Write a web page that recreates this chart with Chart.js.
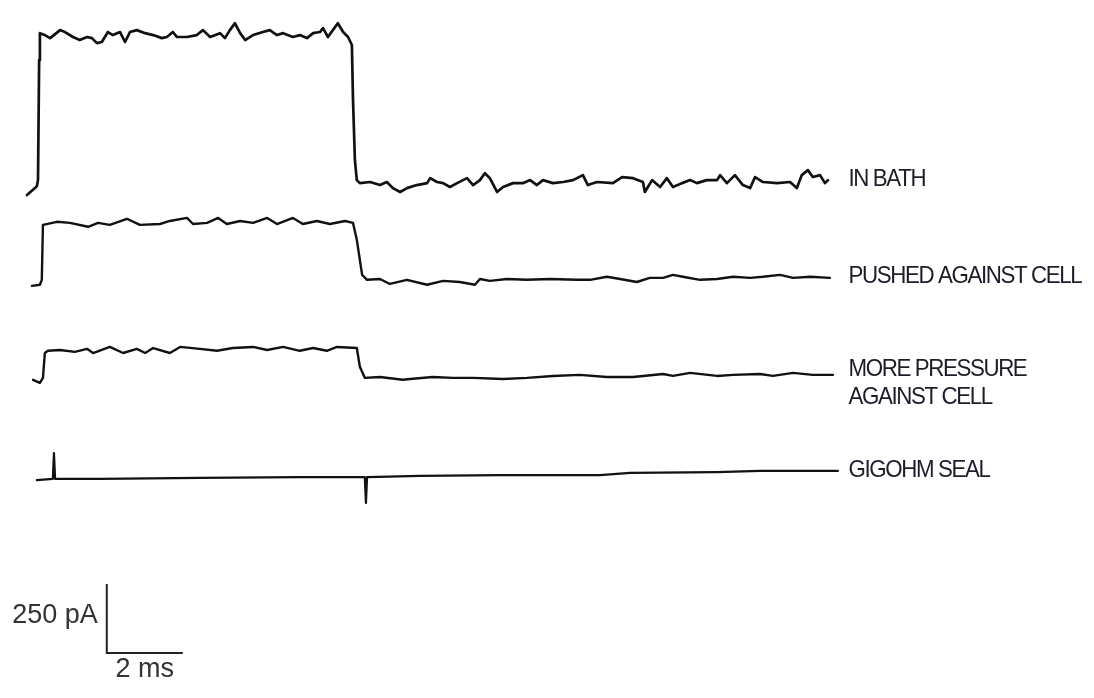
<!DOCTYPE html>
<html>
<head>
<meta charset="utf-8">
<script src="https://cdn.jsdelivr.net/npm/chart.js@4.4.1/dist/chart.umd.min.js"></script>
<style>
  html, body { margin: 0; padding: 0; background: #fff; }
  #wrap { width: 1094px; height: 698px; }
</style>
</head>
<body>
<div id="wrap"><canvas id="traces" width="1094" height="698"></canvas></div>
<script>
// patch-clamp current traces, time in ms, current in pA (relative to each trace's holding level)
const traceLabels  = [['IN BATH'], ['PUSHED AGAINST CELL'], ['MORE PRESSURE', 'AGAINST CELL'], ['GIGOHM SEAL']];
const traceOffsets = [1035, 699, 355, 0];   // holding level of each trace, pA (stacking)

const bathT = [0, 0.21, 0.26, 0.29, 0.32, 0.34, 0.47, 0.61, 0.87, 1.0, 1.21, 1.39, 1.58, 1.71, 1.84, 1.97, 2.13, 2.26, 2.45, 2.58, 2.71, 2.89, 3.11, 3.32, 3.55, 3.68, 3.84, 3.95, 4.21, 4.47, 4.63, 4.82, 5.08, 5.21, 5.34, 5.47, 5.61, 5.74, 5.95, 6.21, 6.39, 6.58, 6.74, 7.0, 7.18, 7.37, 7.53, 7.71, 7.79, 7.92, 8.05, 8.18, 8.32, 8.45, 8.55,
  8.58, 8.63, 8.68, 8.76, 9.03, 9.29, 9.47, 9.63, 9.82, 10.0, 10.26, 10.53, 10.61, 10.79, 10.95, 11.13, 11.32, 11.58, 11.74, 11.92, 12.05, 12.18, 12.37, 12.53, 12.79, 13.05, 13.24, 13.42, 13.58, 13.84, 14.11, 14.37, 14.63, 14.76, 15.0, 15.42, 15.66, 15.95, 16.21, 16.26, 16.45, 16.66, 16.84, 17.0, 17.24, 17.45, 17.63, 17.89, 18.16, 18.24, 18.42, 18.63, 18.84, 19.03, 19.16, 19.37, 19.74, 20.08, 20.26, 20.39, 20.55, 20.68, 20.87, 21.0, 21.08];
const bathI = [-7, 18, 25, 47, 481, 579, 572, 561, 590, 583, 565, 554, 565, 561, 543, 547, 583, 572, 583, 547, 583, 590, 579, 572, 561, 565, 583, 565, 565, 572, 590, 565, 579, 561, 590, 615, 579, 554, 572, 583, 590, 572, 579, 565, 572, 561, 579, 583, 597, 565, 590, 615, 583, 565, 536,
  337, 119, 47, 36, 40, 29, 40, 18, 4, 18, 29, 36, 54, 40, 36, 22, 36, 54, 29, 47, 72, 54, 4, 22, 36, 36, 47, 29, 47, 36, 40, 47, 65, 29, 40, 36, 58, 54, 40, 4, 47, 22, 54, 22, 36, 47, 36, 47, 47, 65, 36, 65, 29, 18, 58, 40, 36, 40, 18, 65, 83, 58, 65, 36, 47];

const pushedT = [0.13, 0.34, 0.39, 0.42, 0.79, 1.13, 1.61, 1.87, 2.18, 2.63, 2.97, 3.5, 3.76, 4.21, 4.37, 4.74, 5.03, 5.26, 5.61, 5.95, 6.32, 6.58, 7.0, 7.26, 7.63, 7.97, 8.37, 8.58,
  8.68, 8.82, 8.95, 9.29, 9.55, 10.0, 10.53, 10.95, 11.39, 11.79, 11.92, 12.18, 12.63, 13.16, 13.76, 14.47, 14.82, 15.26, 15.61, 16.05, 16.39, 16.74, 17.0, 17.26, 17.71, 18.16, 18.58, 19.03, 19.37, 19.82, 20.16, 20.61, 21.13];
const pushedI = [0, 4, 22, 221, 232, 228, 214, 228, 221, 243, 221, 224, 235, 246, 224, 228, 246, 224, 235, 228, 246, 224, 246, 224, 235, 224, 235, 228,
  167, 40, 22, 25, 7, 22, 4, 18, 14, 4, 25, 18, 25, 22, 25, 22, 22, 33, 25, 14, 29, 29, 40, 33, 22, 25, 33, 29, 33, 40, 29, 33, 29];

const pressureT = [0.16, 0.34, 0.42, 0.47, 0.55, 0.87, 1.26, 1.58, 1.74, 2.18, 2.53, 2.89, 3.11, 3.32, 3.76, 4.03, 4.55, 5.0, 5.42, 5.95, 6.32, 6.74, 7.18, 7.53, 7.89, 8.16, 8.68,
  8.76, 8.89, 9.29, 9.89, 10.08, 10.68, 11.21, 11.74, 12.53, 13.16, 13.84, 14.55, 15.26, 15.95, 16.74, 17.0, 17.45, 18.16, 18.58, 19.29, 19.63, 20.16, 20.68, 21.21];
const pressureI = [4, -7, 11, 101, 109, 112, 105, 116, 101, 123, 101, 116, 101, 119, 101, 123, 116, 109, 119, 123, 112, 123, 109, 119, 109, 123, 119,
  51, 11, 14, 4, 7, 14, 11, 11, 7, 11, 18, 22, 14, 14, 25, 18, 29, 18, 22, 25, 18, 29, 22, 22];

const sealT = [0.26, 0.68, 0.71, 0.74, 1.92, 4.55, 7.18, 8.89, 8.92, 8.95, 10.34, 12.45, 15.08, 15.87, 18.16, 19.29, 21.34];
const sealI = [-4, 0, 94, 0, 0, 4, 7, 7, -87, 7, 11, 14, 14, 22, 25, 29, 29];

const scaleBarLabels = ['250 pA', '2 ms'];
const scaleBarSize   = [2, 250];   // ms, pA

// layout: 38 px per ms, 0.276 px per pA
const X_MIN = -0.71, X_MAX = 28.08, Y_MIN = -793, Y_MAX = 1734;
const BAR_T = 2.1, BAR_I = -630;
const LABEL_T = 21.62;   // labels line up here, right of the traces

const series = [[bathT, bathI], [pushedT, pushedI], [pressureT, pressureI], [sealT, sealI]];
const widths = [2.7, 2.4, 2.4, 2.2];

const datasets = series.map(([t, I], k) => ({
  data: t.map((x, i) => ({x, y: I[i] + traceOffsets[k]})),
  borderColor: '#111', borderWidth: widths[k], pointRadius: 0, tension: 0,
  borderJoinStyle: 'round', borderCapStyle: 'round'
}));
datasets.push({
  data: [{x: BAR_T, y: BAR_I + scaleBarSize[1]}, {x: BAR_T, y: BAR_I}, {x: BAR_T + scaleBarSize[0], y: BAR_I}],
  borderColor: '#222', borderWidth: 2, pointRadius: 0, tension: 0
});

// condensed label text: squeeze horizontally, tight tracking
function squeezedText(ctx, s, px, py, sx) {
  ctx.save();
  ctx.translate(px, py);
  ctx.scale(sx, 1);
  ctx.fillText(s, 0, 0);
  ctx.restore();
}

const labelPlugin = {
  id: 'traceLabels',
  afterDatasetsDraw(chart) {
    const {ctx, scales: {x, y}} = chart;
    ctx.save();
    ctx.fillStyle = '#1c1c2a';
    ctx.textBaseline = 'middle';
    ctx.font = '24px "Liberation Sans", Arial, sans-serif';
    if ('letterSpacing' in ctx) ctx.letterSpacing = '-1.5px';
    const px = x.getPixelForValue(LABEL_T);
    series.forEach(([t, I], k) => {
      const n = t.length - 1;
      const lines = traceLabels[k];
      let py = y.getPixelForValue(I[n] + traceOffsets[k]) - (lines.length > 1 ? 5 : 1);
      lines.forEach(s => { squeezedText(ctx, s, px, py, 0.93); py += 28; });
    });
    // scale bar labels
    if ('letterSpacing' in ctx) ctx.letterSpacing = '0px';
    ctx.fillStyle = '#333';
    ctx.font = '27px "Liberation Sans", Arial, sans-serif';
    ctx.textAlign = 'right';
    ctx.fillText(scaleBarLabels[0], x.getPixelForValue(BAR_T) - 9, y.getPixelForValue(BAR_I + scaleBarSize[1] / 2) - 3);
    ctx.textAlign = 'center';
    ctx.fillText(scaleBarLabels[1], x.getPixelForValue(BAR_T + scaleBarSize[0] / 2), y.getPixelForValue(BAR_I) + 17);
    ctx.restore();
  }
};

new Chart(document.getElementById('traces').getContext('2d'), {
  type: 'line',
  data: {datasets},
  options: {
    responsive: false, animation: false,
    layout: {padding: 0},
    plugins: {legend: {display: false}, tooltip: {enabled: false}},
    scales: {
      x: {type: 'linear', min: X_MIN, max: X_MAX, display: false},
      y: {type: 'linear', min: Y_MIN, max: Y_MAX, display: false}
    }
  },
  plugins: [labelPlugin]
});
</script>
</body>
</html>
